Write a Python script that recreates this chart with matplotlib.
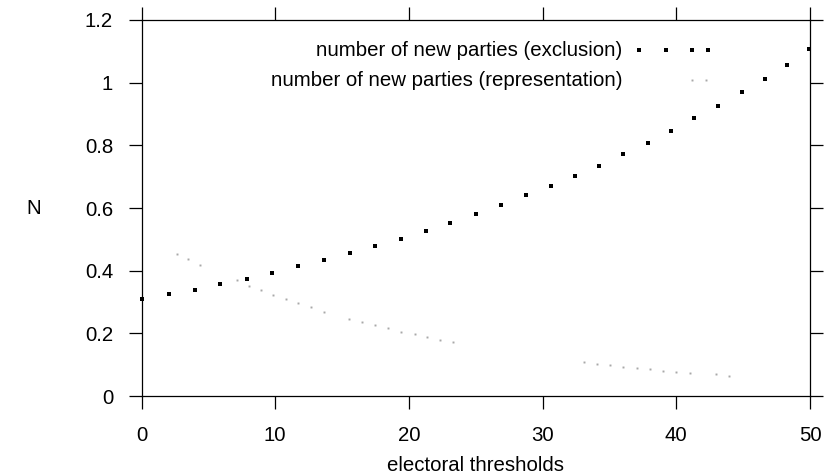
import matplotlib
matplotlib.use("Agg")
import matplotlib.pyplot as plt

# ---- data ----
excl_x = [0.0, 2.03, 3.98, 5.9, 7.88, 9.78, 11.68, 13.67, 15.6, 17.46, 19.4,
          21.3, 23.1, 25.0, 26.9, 28.76, 30.6, 32.4, 34.2, 36.0, 37.9, 39.6,
          41.3, 43.1, 44.9, 46.6, 48.3, 49.9]
excl_y = [0.308, 0.324, 0.338, 0.357, 0.375, 0.393, 0.414, 0.434, 0.455, 0.478,
          0.502, 0.527, 0.552, 0.581, 0.608, 0.640, 0.670, 0.703, 0.735, 0.771,
          0.808, 0.845, 0.886, 0.927, 0.969, 1.012, 1.057, 1.106]

repr_x = [2.63, 3.46, 4.38, 7.12, 8.06, 8.96, 9.86, 10.83, 11.73, 12.70, 13.67,
          15.54, 16.51, 17.49, 18.44, 19.43, 20.43, 21.35, 22.30, 23.32,
          33.12, 34.09, 35.06, 36.04, 37.04, 38.03, 38.98, 39.98, 41.00, 42.97, 43.96]
repr_y = [0.454, 0.436, 0.417, 0.369, 0.352, 0.337, 0.321, 0.308, 0.296, 0.283, 0.269,
          0.246, 0.235, 0.226, 0.216, 0.205, 0.197, 0.187, 0.178, 0.171,
          0.107, 0.102, 0.098, 0.093, 0.088, 0.085, 0.081, 0.078, 0.074, 0.069, 0.065]

series_labels = ["number of new parties (exclusion)",
                 "number of new parties (representation)"]
x_ticks = [0, 10, 20, 30, 40, 50]
y_ticks = [0, 0.2, 0.4, 0.6, 0.8, 1.0, 1.2]
y_tick_labels = ["0", "0.2", "0.4", "0.6", "0.8", "1", "1.2"]
x_label = "electoral thresholds"
y_label = "N"

plt.rcParams['font.family'] = ['Liberation Sans', 'DejaVu Sans']
FS = 14.7

fig = plt.figure(figsize=(8.31, 4.75), dpi=100)
ax = fig.add_axes([0.1703, 0.1663, 0.8044, 0.7916])

excl_color = "black"
repr_color = "#a8a8a8"

ax.plot(excl_x, excl_y, linestyle="none", marker="s", ms=2.3, color=excl_color,
        mec=excl_color, mew=0, clip_on=False)
ax.plot(repr_x, repr_y, linestyle="none", marker="s", ms=1.4, color=repr_color,
        mec=repr_color, mew=0)

ax.set_xlim(0, 50)
ax.set_ylim(0, 1.2)
ax.set_xticks(x_ticks)
ax.set_xticklabels([str(t) for t in x_ticks])
ax.set_yticks(y_ticks)
ax.set_yticklabels(y_tick_labels)

ax.tick_params(direction="out", length=9.5, width=0.9, labelsize=FS,
               top=True, right=True, labeltop=False, labelright=False)
ax.tick_params(axis="x", pad=12)
ax.tick_params(axis="y", pad=11)
for s in ax.spines.values():
    s.set_linewidth(0.9)
    s.set_color("black")

ax.set_xlabel(x_label, fontsize=FS, labelpad=8)
ax.set_ylabel(y_label, fontsize=FS, rotation=0, va="center", ha="center")
ax.yaxis.set_label_coords(-0.162, 0.5)

# legend (gnuplot-style key)
ax.text(0.719, 0.919, series_labels[0], transform=ax.transAxes, ha="right",
        va="center", fontsize=FS)
ax.text(0.719, 0.840, series_labels[1], transform=ax.transAxes, ha="right",
        va="center", fontsize=FS)
ax.plot([0.744, 0.785, 0.824, 0.848], [0.919] * 4, transform=ax.transAxes,
        linestyle="none", marker="s", ms=2.3, color=excl_color, mew=0, clip_on=False)
ax.plot([0.823, 0.844], [0.840] * 2, transform=ax.transAxes,
        linestyle="none", marker="s", ms=1.4, color=repr_color, mew=0, clip_on=False)

fig.savefig("out.png", dpi=100)
